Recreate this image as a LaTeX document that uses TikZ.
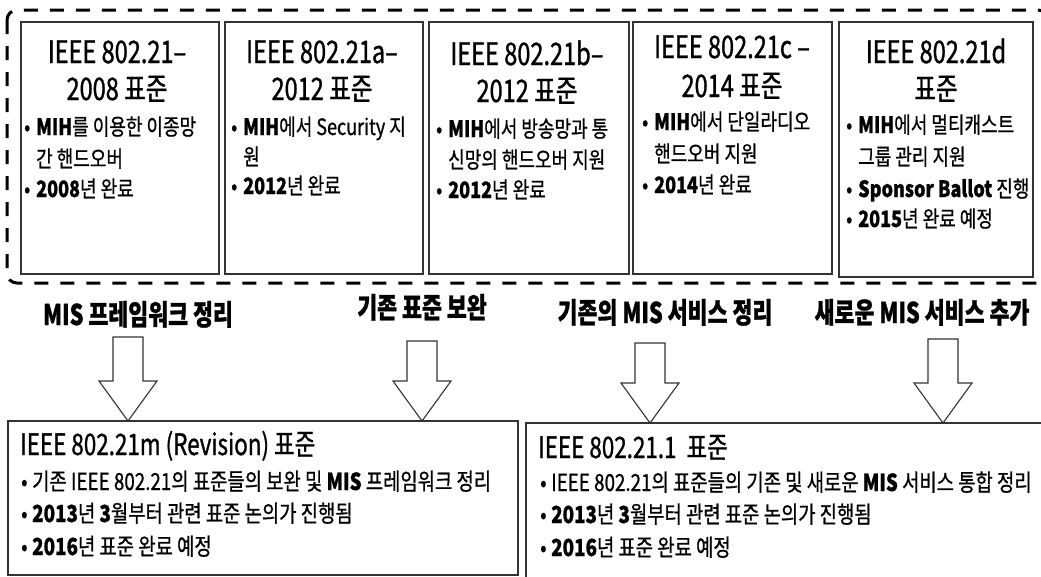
\documentclass[tikz,border=0pt]{standalone}
\usepackage{fontspec}
\setmainfont{Noto Sans CJK KR}[FakeStretch=0.76, FakeBold=1]
\newfontfamily\bltfont{Noto Sans CJK KR}[FakeStretch=0.8, FakeBold=0.8]
\newcommand\bul{\makebox[12pt][l]{•}}
\newcommand\bulb{\makebox[11pt][l]{•}}
\begin{document}
\begin{tikzpicture}[x=1pt,y=-1pt,
  sbox/.style={draw=black!80, line width=1.1pt},
  ttl/.style={font=\fontsize{31}{37}\selectfont, anchor=base, inner sep=0},
  ttlw/.style={font=\fontsize{29.5}{37}\selectfont, anchor=base west, inner sep=0},
  blt/.style={font=\bltfont\fontsize{22.5}{31}\selectfont, anchor=base west, inner sep=0},
  bltb/.style={font=\bltfont\fontsize{23.5}{31}\selectfont, anchor=base west, inner sep=0},
  lbl/.style={font=\fontsize{28.5}{30}\selectfont\bfseries, anchor=base, inner sep=0},
  barrow/.style={draw=black!80, line width=1.1pt, fill=white},
  grp/.style={draw=black, line width=3pt, dash pattern=on 14pt off 12pt, rounded corners=10pt}]
\useasboundingbox (0,0) rectangle (1041,576);
% group frame
\draw[grp] (7,10) rectangle (1048,283);
% top boxes
\draw[sbox] (21,22) rectangle (219,274);
\draw[sbox] (225,22) rectangle (423,274);
\draw[sbox] (429,22) rectangle (629,274);
\draw[sbox] (633,22) rectangle (832,274);
\draw[sbox] (839,22) rectangle (1033,277);
% box 1
\node[ttl] (t1a) at (117,63) {IEEE 802.21–};
\node[ttl] (t1b) at (117,100) {2008 표준};
\node[blt] (t1c) at (24,135) {\bul\textbf{MIH}를 이용한 이종망};
\node[blt] (t1d) at (36,167) {간 핸드오버};
\node[blt] (t1e) at (24,197) {\bul\textbf{2008}년 완료};
% box 2
\node[ttl] (t2a) at (322,63) {IEEE 802.21a–};
\node[ttl] (t2b) at (322,100) {2012 표준};
\node[blt] (t2c) at (231,135) {\bul\textbf{MIH}에서 Security 지};
\node[blt] (t2d) at (243,165) {원};
\node[blt] (t2e) at (231,194) {\bul\textbf{2012}년 완료};
% box 3
\node[ttl] (t3a) at (527,65) {IEEE 802.21b–};
\node[ttl] (t3b) at (527,102) {2012 표준};
\node[blt] (t3c) at (436,137) {\bul\textbf{MIH}에서 방송망과 통};
\node[blt] (t3d) at (448,168) {신망의 핸드오버 지원};
\node[blt] (t3e) at (436,198) {\bul\textbf{2012}년 완료};
% box 4
\node[ttl] (t4a) at (732,58) {IEEE 802.21c –};
\node[ttl] (t4b) at (732,97) {2014 표준};
\node[blt] (t4c) at (642,130) {\bul\textbf{MIH}에서 단일라디오};
\node[blt] (t4d) at (654,162) {핸드오버 지원};
\node[blt] (t4e) at (642,193) {\bul\textbf{2014}년 완료};
% box 5
\node[ttl] (t5a) at (936,63) {IEEE 802.21d};
\node[ttl] (t5b) at (936,100) {표준};
\node[blt] (t5c) at (846,133) {\bul\textbf{MIH}에서 멀티캐스트};
\node[blt] (t5d) at (858,165) {그룹 관리 지원};
\node[blt] (t5e) at (846,197) {\bul\textbf{Sponsor Ballot} 진행};
\node[blt] (t5f) at (846,227) {\bul\textbf{2015}년 완료 예정};
% labels
\node[lbl] (l1) at (138,325) {MIS 프레임워크 정리};
\node[lbl] (l2) at (422,318) {기존 표준 보완};
\node[lbl] (l3) at (665,323) {기존의 MIS 서비스 정리};
\node[lbl] (l4) at (922,323) {새로운 MIS 서비스 추가};
% block arrows
\foreach \x/\t/\b in {128/337/421, 422/341/421, 650/343/423, 943/339/423}{
  \draw[barrow] (\x-15,\t) -- (\x+15,\t) -- (\x+15,\b-40) -- (\x+29,\b-40) -- (\x,\b)
    -- (\x-29,\b-40) -- (\x-15,\b-40) -- cycle;
}
% bottom boxes
\draw[sbox] (8,421) rectangle (518,575);
\draw[sbox] (526,423) rectangle (1046,582);
\node[ttlw] (ba) at (20,455) {IEEE 802.21m (Revision) 표준};
\node[bltb] (ba1) at (21,490) {\bulb 기존 IEEE 802.21의 표준들의 보완 및 \textbf{MIS} 프레임워크 정리};
\node[bltb] (ba2) at (21,522) {\bulb\textbf{2013}년 \textbf{3}월부터 관련 표준 논의가 진행됨};
\node[bltb] (ba3) at (21,555) {\bulb\textbf{2016}년 표준 완료 예정};
\node[ttlw] (bb) at (538,458) {IEEE 802.21.1\ \ 표준};
\node[bltb] (bb1) at (540,491) {\bulb IEEE 802.21의 표준들의 기존 및 새로운 \textbf{MIS} 서비스 통합 정리};
\node[bltb] (bb2) at (540,523) {\bulb\textbf{2013}년 \textbf{3}월부터 관련 표준 논의가 진행됨};
\node[bltb] (bb3) at (540,556) {\bulb\textbf{2016}년 표준 완료 예정};
\end{tikzpicture}
\end{document}
